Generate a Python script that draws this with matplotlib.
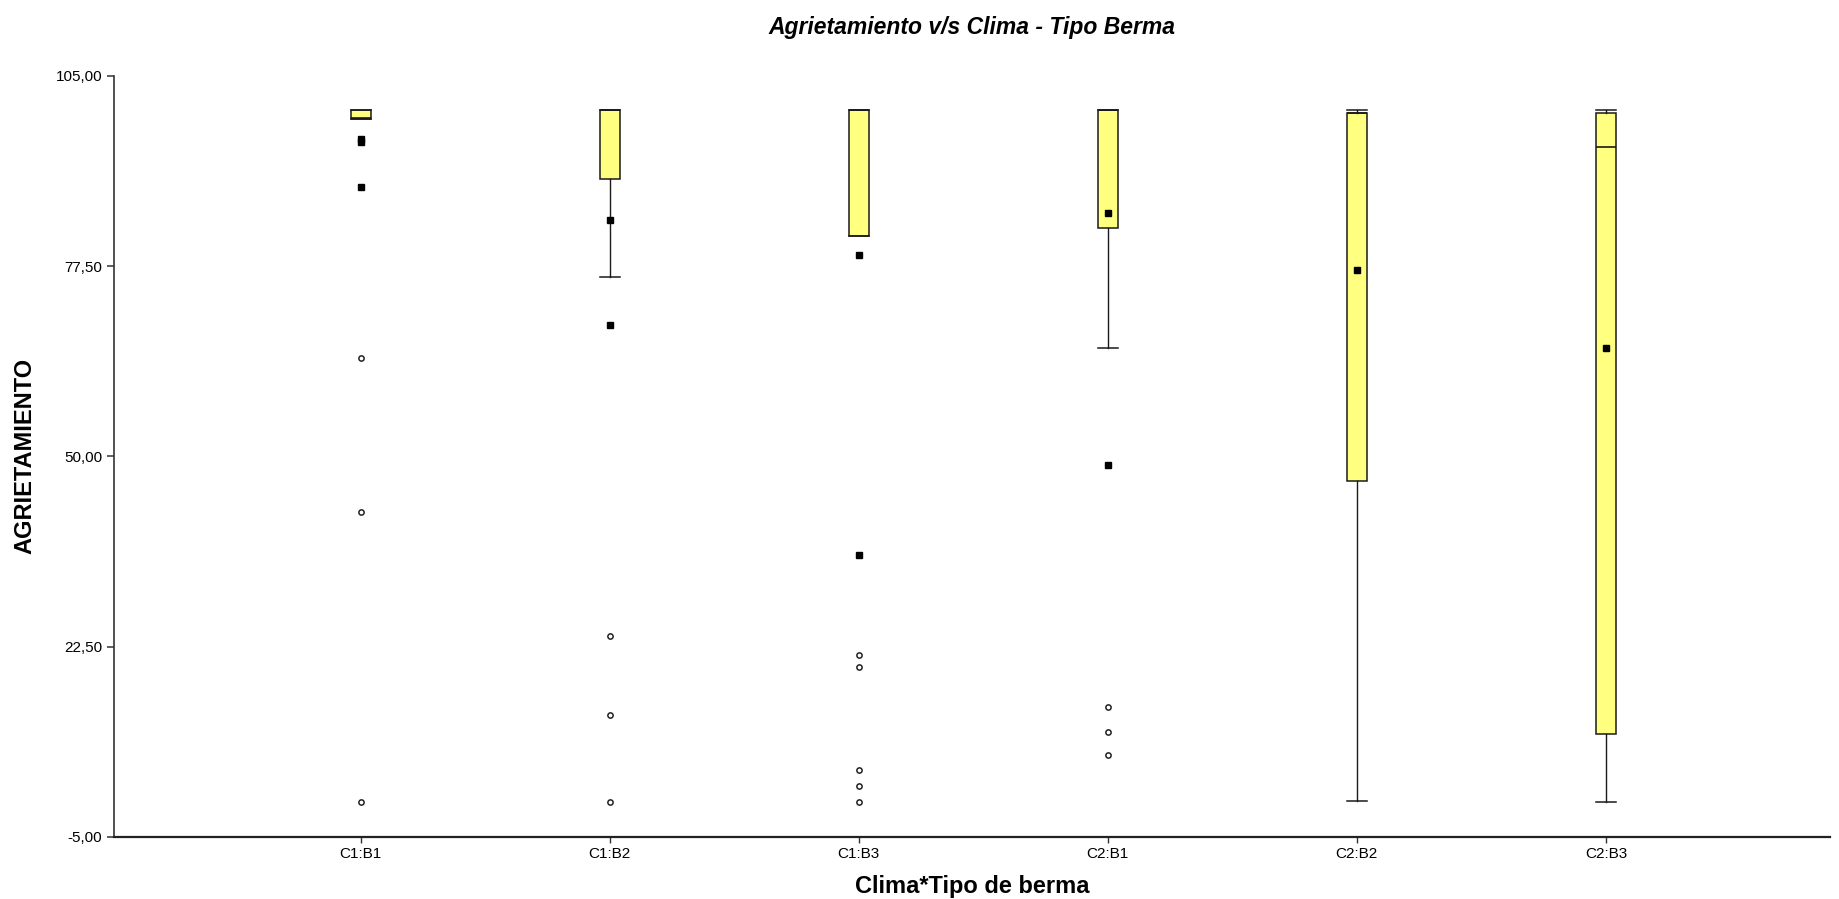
import matplotlib
matplotlib.use('Agg')
import matplotlib.pyplot as plt

plt.rcParams['font.family'] = ['Liberation Sans', 'DejaVu Sans']

# categories and box statistics
categories = ['C1:B1', 'C1:B2', 'C1:B3', 'C2:B1', 'C2:B2', 'C2:B3']
whisker_low = [98.8, 76.0, 81.85, 65.6, 0.25, 0.0]
q1 = [98.8, 90.07, 81.85, 83.0, 46.44, 9.85]
median = [98.9, 100.0, 100.0, 100.0, 99.6, 94.7]
q3 = [100.0, 100.0, 100.0, 100.0, 99.6, 99.6]
whisker_high = [100.0, 100.0, 100.0, 100.0, 100.0, 100.0]

# filled squares (extremes) and open circles (outliers) per category
extremes = [
    [95.9, 95.5, 88.9],
    [84.2, 69.0],
    [79.1, 35.76],
    [85.24, 48.77],
    [76.9],
    [65.6],
]
outliers = [
    [64.25, 42.03, 0.0],
    [24.05, 12.68, 0.0],
    [21.3, 19.6, 4.68, 2.37, 0.0],
    [13.83, 10.17, 6.8],
    [],
    [],
]

y_ticks = [105.0, 77.5, 50.0, 22.5, -5.0]

fig = plt.figure(figsize=(18.4, 8.99), dpi=100)
ax = fig.add_axes([0.062, 0.069, 0.9326, 0.8466])

stats = []
for i, name in enumerate(categories):
    stats.append({
        'label': name,
        'whislo': whisker_low[i],
        'q1': q1[i],
        'med': median[i],
        'q3': q3[i],
        'whishi': whisker_high[i],
        'fliers': [],
    })

positions = list(range(len(categories)))
ax.bxp(stats, positions=positions, widths=0.08, capwidths=0.08,
       patch_artist=True, showfliers=False,
       boxprops=dict(facecolor='#FFFF80', edgecolor='#1a1a1a', linewidth=1.1),
       medianprops=dict(color='#1a1a1a', linewidth=1.2),
       whiskerprops=dict(color='#1a1a1a', linewidth=1.0),
       capprops=dict(color='#1a1a1a', linewidth=1.1))

for i in positions:
    if extremes[i]:
        ax.plot([i] * len(extremes[i]), extremes[i], linestyle='none',
                marker='s', markersize=3.8, color='black', zorder=4)
    if outliers[i]:
        ax.plot([i] * len(outliers[i]), outliers[i], linestyle='none',
                marker='o', markersize=3.8, markerfacecolor='white',
                markeredgecolor='#222222', markeredgewidth=1.1, zorder=4)

ax.set_xlim(-0.99, 5.9)
ax.set_ylim(-5, 105)
ax.set_yticks(y_ticks)
ax.set_yticklabels([f"{v:.2f}".replace('.', ',') for v in y_ticks], fontsize=11)
ax.set_xticks(positions)
ax.set_xticklabels(categories, fontsize=11)
ax.tick_params(axis='y', direction='out', length=5, width=1.1, color='#333333')
ax.tick_params(axis='x', direction='out', length=4, width=1.0, color='#333333')

for side in ['top', 'right']:
    ax.spines[side].set_visible(False)
ax.spines['left'].set_linewidth(1.2)
ax.spines['left'].set_color('#333333')
ax.spines['bottom'].set_linewidth(1.6)
ax.spines['bottom'].set_color('#222222')

ax.set_xlabel('Clima*Tipo de berma', fontsize=17, fontweight='bold', labelpad=10)
ax.set_ylabel('AGRIETAMIENTO', fontsize=17, fontweight='bold', labelpad=14)
ax.set_title('Agrietamiento v/s Clima - Tipo Berma', fontsize=16.5,
             fontweight='bold', fontstyle='italic', pad=30)

fig.savefig('out.png', dpi=100)
